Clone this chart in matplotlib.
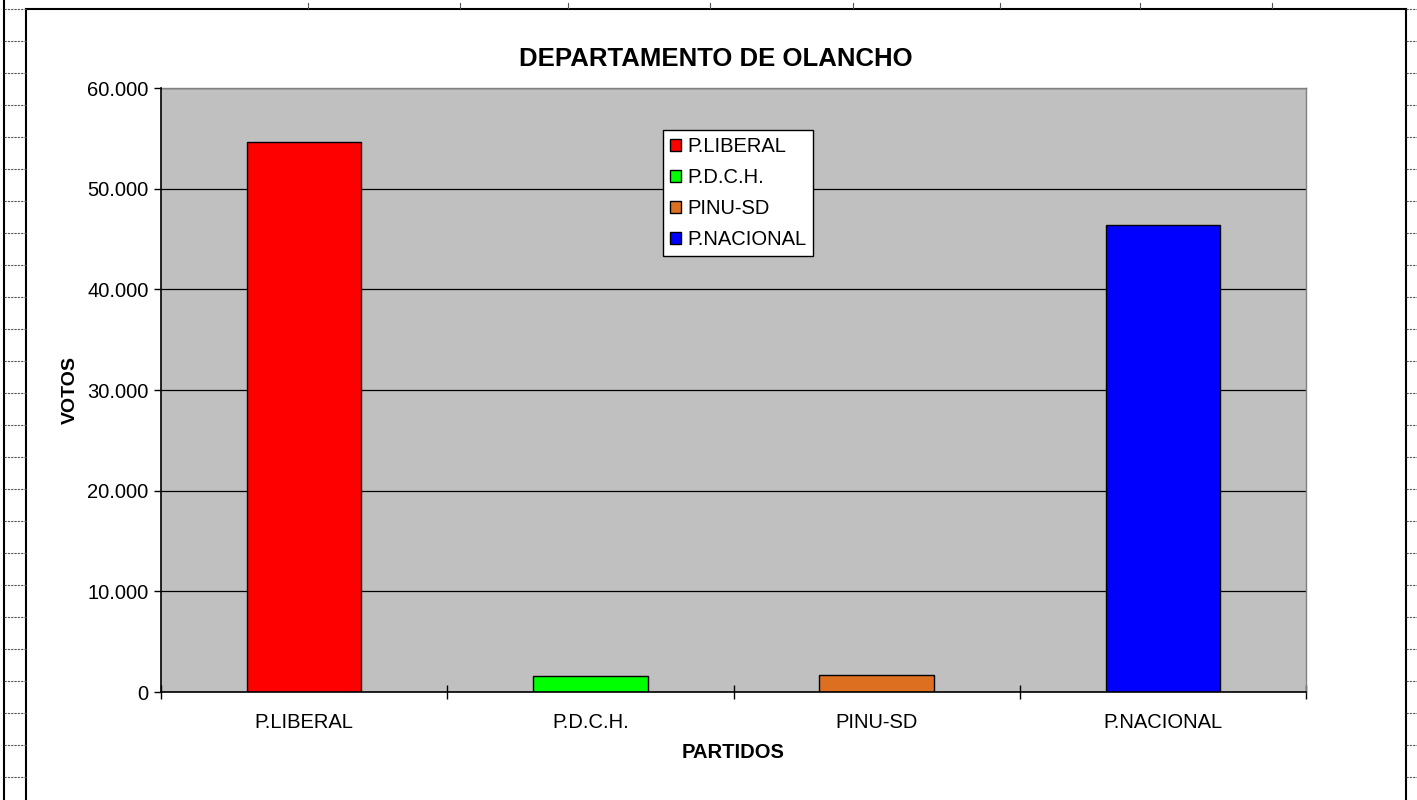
import numpy as np
import matplotlib.pyplot as plt
from matplotlib.lines import Line2D
from matplotlib.patches import Rectangle

plt.rcParams['font.family'] = ['Liberation Sans', 'DejaVu Sans']

partidos = ['P.LIBERAL', 'P.D.C.H.', 'PINU-SD', 'P.NACIONAL']
votos = [54600, 1560, 1660, 46400]
colores = ['#FF0000', '#00FF00', '#DD7020', '#0000FF']
yticks = [0, 10000, 20000, 30000, 40000, 50000, 60000]
ytick_labels = ['0', '10.000', '20.000', '30.000', '40.000', '50.000', '60.000']

fig = plt.figure(figsize=(14.17, 8), dpi=100)
W, H = 1417, 800

# marco del grafico y lineas de la hoja de calculo
fig.add_artist(Rectangle((26 / W, -0.01), (1406 - 26) / W, (800 - 9) / H + 0.01,
                         transform=fig.transFigure, fill=False, edgecolor='black', lw=1.5))
fig.add_artist(Line2D([4 / W, 4 / W], [0, 1], transform=fig.transFigure, color='black', lw=1.5))
for y in range(9, 800, 32):
    fig.add_artist(Line2D([4 / W, 26 / W], [1 - y / H, 1 - y / H], transform=fig.transFigure,
                          color='#555555', lw=0.8, ls=(0, (2, 1))))
    fig.add_artist(Line2D([1406 / W, 1417 / W], [1 - y / H, 1 - y / H], transform=fig.transFigure,
                          color='#555555', lw=0.8, ls=(0, (2, 1))))
for x in [308, 460, 568, 710, 853, 1000, 1140, 1272]:
    fig.add_artist(Line2D([x / W, x / W], [1 - 8 / H, 1 - 3 / H], transform=fig.transFigure,
                          color='#555555', lw=0.8))

ax = fig.add_axes([161 / W, (800 - 692) / H, (1306 - 161) / W, (692 - 88) / H])
ax.set_facecolor('#C0C0C0')

x = np.arange(len(partidos))
bars = ax.bar(x, votos, width=0.4, color=colores, edgecolor='black', linewidth=1, zorder=3)

ax.set_xlim(-0.5, len(partidos) - 0.5)
ax.set_ylim(0, 60000)
ax.set_yticks(yticks)
ax.set_yticklabels(ytick_labels, fontsize=14.5)
ax.set_xticks(x)
ax.set_xticklabels(partidos, fontsize=14.5)
ax.tick_params(axis='x', length=0, pad=15)
ax.set_xticks(np.arange(-0.5, len(partidos)), minor=True)
ax.tick_params(axis='x', which='minor', direction='inout', length=10, width=1)
ax.tick_params(axis='y', direction='out', length=5, width=1, pad=4)
ax.grid(axis='y', color='black', lw=0.9, zorder=1)

for side in ['top', 'right']:
    ax.spines[side].set_color('#808080')
    ax.spines[side].set_linewidth(1)
for side in ['left', 'bottom']:
    ax.spines[side].set_color('black')
    ax.spines[side].set_linewidth(1.2)
    ax.spines[side].set_zorder(4)

ax.set_ylabel('VOTOS', fontsize=14, fontweight='bold', labelpad=6)
ax.set_xlabel('PARTIDOS', fontsize=14.5, fontweight='bold', labelpad=8)
fig.text(716 / W, 1 - 59 / H, 'DEPARTAMENTO DE OLANCHO', fontsize=18.5, fontweight='bold',
         ha='center', va='center')

leg = ax.legend(bars, partidos, loc='upper left', bbox_to_anchor=((663 - 161) / (1306 - 161), (692 - 130) / (692 - 88)),
                fontsize=14.5, frameon=True, fancybox=False, framealpha=1, edgecolor='black',
                handlelength=0.55, handleheight=0.55, handletextpad=0.3, borderpad=0.35,
                labelspacing=0.6, borderaxespad=0)
leg.get_frame().set_linewidth(1)
leg.set_zorder(5)

fig.savefig('out.png', dpi=100)
